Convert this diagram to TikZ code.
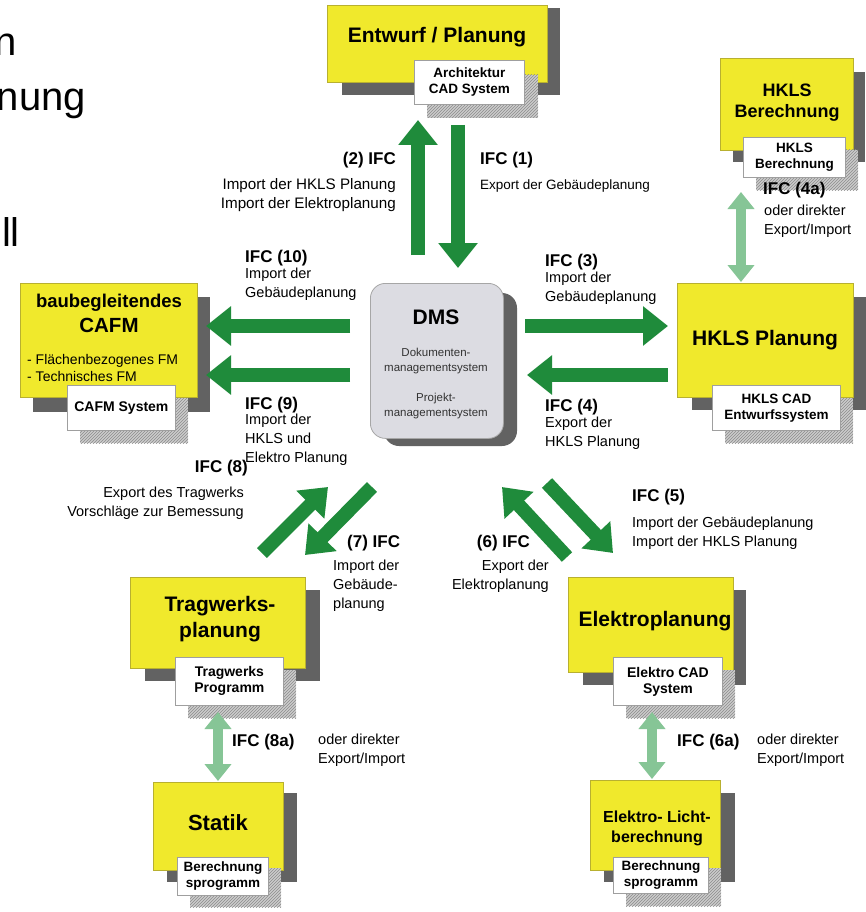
\documentclass[tikz,border=0pt]{standalone}
\usepackage{fontspec}
\setmainfont{Liberation Sans}
\usetikzlibrary{arrows.meta,patterns}
\definecolor{boxyellow}{HTML}{F0E92C}
\definecolor{ybord}{HTML}{B8B030}
\definecolor{shadowgray}{HTML}{626262}
\definecolor{arrgreen}{HTML}{1F8B3B}
\definecolor{lightgreen}{HTML}{86C596}
\definecolor{dmsfill}{HTML}{DCDCE2}
\definecolor{txtgray}{HTML}{333333}
\tikzset{
 ybox/.style={draw=ybord, line width=0.6pt, fill=boxyellow, anchor=north west, inner sep=0pt},
 dshadow/.style={fill=shadowgray},
 hshadow/.style={fill=gray!40, postaction={pattern=north east lines, pattern color=gray!90}},
 wbox/.style={draw=gray!75, line width=0.8pt, fill=white, anchor=north west, inner sep=0pt, align=center, font=\bfseries\fontsize{13.5}{16}\selectfont},
 ttl/.style={font=\bfseries\fontsize{21}{24}\selectfont, align=center, inner sep=0pt},
 ifc/.style={font=\bfseries\fontsize{17}{20}\selectfont, inner sep=0pt},
 lbl/.style={font=\fontsize{14.5}{19}\selectfont, inner sep=0pt},
 frag/.style={font=\fontsize{40}{44}\selectfont, inner sep=0pt},
 garrow/.style={draw=arrgreen, line width=14pt, -{Triangle[width=38pt,length=25pt]}},
 larrow/.style={draw=lightgreen, line width=10pt, {Triangle[width=26pt,length=17pt]}-{Triangle[width=26pt,length=17pt]}},
}
\begin{document}
\begin{tikzpicture}[x=1pt,y=-1pt]
\useasboundingbox (0,0) rectangle (866,912);
\fill[white] (0,0) rectangle (866,912);

% fragments at the left edge
\node[frag, anchor=base east] (f1) at (17,56) {n};
\node[frag, anchor=base east] (f2) at (86,111) {nung};
\node[frag, anchor=base east] (f3) at (20,246) {ll};

% ---- Entwurf / Planung
\fill[dshadow] (342,8) rectangle (560,95);
\node[ybox, minimum width=220pt, minimum height=77pt] (entY) at (327,5) {};
\node[ttl] (entT) at (437,37) {Entwurf / Planung};
\fill[hshadow] (427,75) rectangle (538,118);
\node[wbox, minimum width=110pt, minimum height=44pt] (entW) at (414,60) {Architektur\\CAD System};

% ---- HKLS Berechnung
\fill[dshadow] (733,72) rectangle (865,162);
\node[ybox, minimum width=133pt, minimum height=92pt] (hbY) at (720,58) {};
\node[ttl, font=\bfseries\fontsize{18}{21}\selectfont] (hbT) at (787,103) {HKLS\\Berechnung};
\fill[hshadow] (756,150) rectangle (858,190);
\node[wbox, minimum width=102pt, minimum height=40pt] (hbW) at (743,137) {HKLS\\Berechnung};

% ---- CAFM
\fill[dshadow] (33,297) rectangle (210,412);
\node[ybox, minimum width=177pt, minimum height=114pt] (cafmY) at (20,283) {};
\node[ttl, font=\bfseries\fontsize{18.5}{21}\selectfont] (cafmT1) at (109,303) {baubegleitendes};
\node[ttl, font=\bfseries\fontsize{20.5}{23}\selectfont] (cafmT2) at (109,325) {CAFM};
\node[lbl, font=\fontsize{14}{17}\selectfont, anchor=west, align=left] (cafmL) at (27,368) {- Flächenbezogenes FM\\- Technisches FM};
\fill[hshadow] (80,398) rectangle (188,443);
\node[wbox, minimum width=108pt, minimum height=45pt, font=\bfseries\fontsize{14}{16}\selectfont] (cafmW) at (67,385) {CAFM System};

% ---- DMS
\fill[dshadow, rounded corners=15pt] (384,293) rectangle (517,446);
\node[draw=gray!70, line width=0.8pt, fill=dmsfill, rounded corners=15pt, anchor=north west, minimum width=133pt, minimum height=155pt, inner sep=0pt] (dms) at (370,283) {};
\node[ttl, font=\bfseries\fontsize{21}{24}\selectfont] (dmsT) at (436,317) {DMS};
\node[lbl, font=\fontsize{11.5}{15}\selectfont, text=txtgray, align=center] (dmsA) at (436,361) {Dokumenten-\\managementsystem};
\node[lbl, font=\fontsize{11.5}{15}\selectfont, text=txtgray, align=center] (dmsB) at (436,406) {Projekt-\\managementsystem};

% ---- HKLS Planung
\fill[dshadow] (692,297) rectangle (866,410);
\node[ybox, minimum width=176pt, minimum height=114pt] (hpY) at (677,283) {};
\node[ttl] (hpT) at (765,340) {HKLS Planung};
\fill[hshadow] (725,398) rectangle (853,443);
\node[wbox, minimum width=128pt, minimum height=45pt] (hpW) at (712,385) {HKLS CAD\\Entwurfssystem};

% ---- Tragwerksplanung
\fill[dshadow] (145,590) rectangle (320,681);
\node[ybox, minimum width=175pt, minimum height=91pt] (trY) at (130,577) {};
\node[ttl, font=\bfseries\fontsize{21}{26}\selectfont] (trT) at (220,619) {Tragwerks-\\planung};
\fill[hshadow] (188,670) rectangle (296,718);
\node[wbox, minimum width=108pt, minimum height=48pt, font=\bfseries\fontsize{14}{16}\selectfont] (trW) at (175,657) {Tragwerks\\Programm};

% ---- Elektroplanung
\fill[dshadow] (583,590) rectangle (746,685);
\node[ybox, minimum width=165pt, minimum height=95pt] (elY) at (568,577) {};
\node[ttl] (elT) at (655,621) {Elektroplanung};
\fill[hshadow] (626,670) rectangle (735,718);
\node[wbox, minimum width=109pt, minimum height=48pt, font=\bfseries\fontsize{14}{16}\selectfont] (elW) at (613,657) {Elektro CAD\\System};

% ---- Statik
\fill[dshadow] (167,793) rectangle (297,882);
\node[ybox, minimum width=130pt, minimum height=88pt] (stY) at (153,782) {};
\node[ttl, font=\bfseries\fontsize{22}{25}\selectfont] (stT) at (218,823) {Statik};
\fill[hshadow] (190,868) rectangle (281,907);
\node[wbox, minimum width=91pt, minimum height=38pt] (stW) at (177,857) {Berechnung\\sprogramm};

% ---- Elektro-Lichtberechnung
\fill[dshadow] (604,793) rectangle (735,882);
\node[ybox, minimum width=130pt, minimum height=90pt] (liY) at (590,780) {};
\node[ttl, font=\bfseries\fontsize{16}{20}\selectfont] (liT) at (657,828) {Elektro- Licht-\\berechnung};
\fill[hshadow] (626,868) rectangle (721,906);
\node[wbox, minimum width=95pt, minimum height=36pt] (liW) at (613,857) {Berechnung\\sprogramm};

% ---- arrows
\coordinate (a2s) at (418,255); \coordinate (a2e) at (418,120);
\coordinate (a1s) at (458,125); \coordinate (a1e) at (458,268);
\coordinate (a10s) at (350,326); \coordinate (a10e) at (206,326);
\coordinate (a9s) at (350,375); \coordinate (a9e) at (206,375);
\coordinate (a3s) at (525,326); \coordinate (a3e) at (668,326);
\coordinate (a4s) at (668,375); \coordinate (a4e) at (527,375);
\coordinate (a8s) at (262,553); \coordinate (a8e) at (328,487);
\coordinate (a7s) at (372,487); \coordinate (a7e) at (305,555);
\coordinate (a6s) at (567,557); \coordinate (a6e) at (502,487);
\coordinate (a5s) at (547,483); \coordinate (a5e) at (613,553);
\draw[garrow] (a2s) -- (a2e);
\draw[garrow] (a1s) -- (a1e);
\draw[garrow] (a10s) -- (a10e);
\draw[garrow] (a9s) -- (a9e);
\draw[garrow] (a3s) -- (a3e);
\draw[garrow] (a4s) -- (a4e);
\draw[garrow] (a8s) -- (a8e);
\draw[garrow] (a7s) -- (a7e);
\draw[garrow] (a6s) -- (a6e);
\draw[garrow] (a5s) -- (a5e);

\coordinate (b4t) at (741,192); \coordinate (b4b) at (741,282);
\coordinate (b8t) at (218,712); \coordinate (b8b) at (218,781);
\coordinate (b6t) at (652,712); \coordinate (b6b) at (652,779);
\draw[larrow] (b4t) -- (b4b);
\draw[larrow] (b8t) -- (b8b);
\draw[larrow] (b6t) -- (b6b);

% ---- labels
\node[ifc, anchor=east] (l2) at (396,160) {(2) IFC};
\node[lbl, font=\fontsize{15.2}{19}\selectfont, anchor=north east, align=right] (l2t) at (396,178) {Import der HKLS Planung\\Import der Elektroplanung};
\node[ifc, anchor=west] (l1) at (480,160) {IFC (1)};
\node[lbl, font=\fontsize{13.5}{19}\selectfont, anchor=west] (l1t) at (480,186) {Export der Gebäudeplanung};
\node[ifc, anchor=west] (l4a) at (763,190) {IFC (4a)};
\node[lbl, anchor=north west, align=left] (l4at) at (764,205) {oder direkter\\Export/Import};
\node[ifc, anchor=west] (l10) at (245,258) {IFC (10)};
\node[lbl, anchor=north west, align=left] (l10t) at (245,268) {Import der\\Gebäudeplanung};
\node[ifc, anchor=west] (l3) at (545,262) {IFC (3)};
\node[lbl, anchor=north west, align=left] (l3t) at (545,272) {Import der\\Gebäudeplanung};
\node[ifc, anchor=west] (l9) at (245,405) {IFC (9)};
\node[lbl, anchor=north west, align=left] (l9t) at (245,414) {Import der\\HKLS und\\Elektro Planung};
\node[ifc, anchor=west] (l4) at (545,407) {IFC (4)};
\node[lbl, anchor=north west, align=left] (l4t) at (545,417) {Export der\\HKLS Planung};
\node[ifc, anchor=east] (l8) at (248,468) {IFC (8)};
\node[lbl, anchor=north east, align=right] (l8t) at (244,487) {Export des Tragwerks\\Vorschläge zur Bemessung};
\node[ifc, anchor=west] (l7) at (347,543) {(7) IFC};
\node[lbl, anchor=north west, align=left] (l7t) at (333,560) {Import der\\Gebäude-\\planung};
\node[ifc, anchor=east] (l6) at (530,543) {(6) IFC};
\node[lbl, anchor=north east, align=right] (l6t) at (549,560) {Export der\\Elektroplanung};
\node[ifc, anchor=west] (l5) at (632,497) {IFC (5)};
\node[lbl, anchor=north west, align=left] (l5t) at (632,517) {Import der Gebäudeplanung\\Import der HKLS Planung};
\node[ifc, anchor=west] (l8a) at (232,742) {IFC (8a)};
\node[lbl, anchor=north west, align=left] (l8at) at (318,734) {oder direkter\\Export/Import};
\node[ifc, anchor=west] (l6a) at (677,742) {IFC (6a)};
\node[lbl, anchor=north west, align=left] (l6at) at (757,734) {oder direkter\\Export/Import};
\end{tikzpicture}
\end{document}
